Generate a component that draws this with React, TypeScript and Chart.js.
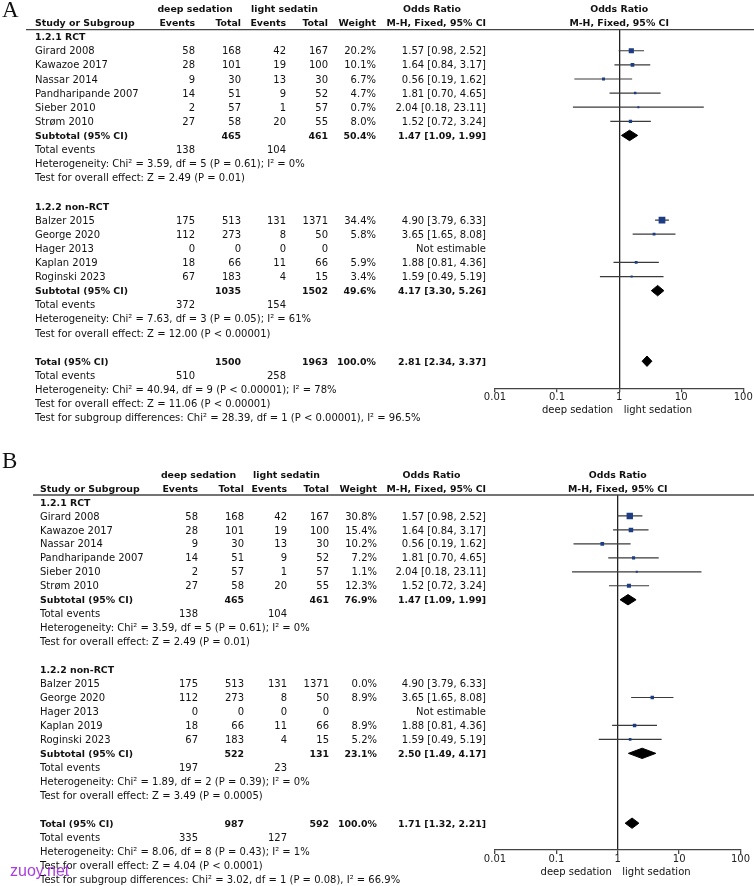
import React, { useEffect, useRef } from 'react';
import { Chart, registerables } from 'chart.js';

Chart.register(...registerables);

const FONT = '"DejaVu Sans", Verdana, sans-serif';

// ---------- data ----------
const groupLabels = ['1.2.1 RCT', '1.2.2 non-RCT'];

const rctStudies = ['Girard 2008', 'Kawazoe 2017', 'Nassar 2014', 'Pandharipande 2007', 'Sieber 2010', 'Strøm 2010'];
const rctDeepEvents = [58, 28, 9, 14, 2, 27];
const rctDeepTotal = [168, 101, 30, 51, 57, 58];
const rctLightEvents = [42, 19, 13, 9, 1, 20];
const rctLightTotal = [167, 100, 30, 52, 57, 55];
const rctOR = [1.57, 1.64, 0.56, 1.81, 2.04, 1.52];
const rctLow = [0.98, 0.84, 0.19, 0.7, 0.18, 0.72];
const rctHigh = [2.52, 3.17, 1.62, 4.65, 23.11, 3.24];
const rctWeightA = [20.2, 10.1, 6.7, 4.7, 0.7, 8.0];
const rctWeightB = [30.8, 15.4, 10.2, 7.2, 1.1, 12.3];

const nonStudies = ['Balzer 2015', 'George 2020', 'Hager 2013', 'Kaplan 2019', 'Roginski 2023'];
const nonDeepEvents = [175, 112, 0, 18, 67];
const nonDeepTotal = [513, 273, 0, 66, 183];
const nonLightEvents = [131, 8, 0, 11, 4];
const nonLightTotal = [1371, 50, 0, 66, 15];
const nonOR: (number | null)[] = [4.9, 3.65, null, 1.88, 1.59];
const nonLow: (number | null)[] = [3.79, 1.65, null, 0.81, 0.49];
const nonHigh: (number | null)[] = [6.33, 8.08, null, 4.36, 5.19];
const nonWeightA: (number | null)[] = [34.4, 5.8, null, 5.9, 3.4];
const nonWeightB: (number | null)[] = [0.0, 8.9, null, 8.9, 5.2];

// summaries: [RCT subtotal, non-RCT subtotal, overall total]
const sumLabels = ['Subtotal (95% CI)', 'Subtotal (95% CI)', 'Total (95% CI)'];

const sumOR_A = [1.47, 4.17, 2.81];
const sumLow_A = [1.09, 3.3, 2.34];
const sumHigh_A = [1.99, 5.26, 3.37];
const sumWeight_A = [50.4, 49.6, 100.0];
const sumDeepTotal_A = [465, 1035, 1500];
const sumLightTotal_A = [461, 1502, 1963];
const sumDeepEvents_A = [138, 372, 510];
const sumLightEvents_A = [104, 154, 258];
const het_A = [
  'Heterogeneity: Chi² = 3.59, df = 5 (P = 0.61); I² = 0%',
  'Heterogeneity: Chi² = 7.63, df = 3 (P = 0.05); I² = 61%',
  'Heterogeneity: Chi² = 40.94, df = 9 (P < 0.00001); I² = 78%',
];
const test_A = [
  'Test for overall effect: Z = 2.49 (P = 0.01)',
  'Test for overall effect: Z = 12.00 (P < 0.00001)',
  'Test for overall effect: Z = 11.06 (P < 0.00001)',
];
const subgroup_A = 'Test for subgroup differences: Chi² = 28.39, df = 1 (P < 0.00001), I² = 96.5%';

const sumOR_B = [1.47, 2.5, 1.71];
const sumLow_B = [1.09, 1.49, 1.32];
const sumHigh_B = [1.99, 4.17, 2.21];
const sumWeight_B = [76.9, 23.1, 100.0];
const sumDeepTotal_B = [465, 522, 987];
const sumLightTotal_B = [461, 131, 592];
const sumDeepEvents_B = [138, 197, 335];
const sumLightEvents_B = [104, 23, 127];
const het_B = [
  'Heterogeneity: Chi² = 3.59, df = 5 (P = 0.61); I² = 0%',
  'Heterogeneity: Chi² = 1.89, df = 2 (P = 0.39); I² = 0%',
  'Heterogeneity: Chi² = 8.06, df = 8 (P = 0.43); I² = 1%',
];
const test_B = [
  'Test for overall effect: Z = 2.49 (P = 0.01)',
  'Test for overall effect: Z = 3.49 (P = 0.0005)',
  'Test for overall effect: Z = 4.04 (P < 0.0001)',
];
const subgroup_B = 'Test for subgroup differences: Chi² = 3.02, df = 1 (P = 0.08), I² = 66.9%';

const tickValues = [0.01, 0.1, 1, 10, 100];
const tickLabels = ['0.01', '0.1', '1', '10', '100'];
const axisCaptions = ['deep sedation', 'light sedation'];

// ---------- layout (not data) ----------
const panels = [
  {
    letter: 'A', height: 440, top: 29.6, bottom: 388.3, right: 743.3, letterBaseline: 17,
    cols: { study: 35, ev1: 195, tot1: 241, ev2: 286, tot2: 328, wt: 376, or: 486, deepHead: 195, lightHead: 284.5, orHead: 432, lineLeft: 26 },
    rctWeight: rctWeightA, nonWeight: nonWeightA,
    sumOR: sumOR_A, sumLow: sumLow_A, sumHigh: sumHigh_A, sumWeight: sumWeight_A,
    sumDeepTotal: sumDeepTotal_A, sumLightTotal: sumLightTotal_A, sumDeepEvents: sumDeepEvents_A, sumLightEvents: sumLightEvents_A,
    het: het_A, test: test_A, subgroup: subgroup_A, watermark: false,
  },
  {
    letter: 'B', height: 446, top: 55, bottom: 410, right: 740.5, letterBaseline: 28.3,
    cols: { study: 40, ev1: 198, tot1: 244, ev2: 287, tot2: 329, wt: 377, or: 486, deepHead: 198.5, lightHead: 286.5, orHead: 431.5, lineLeft: 33 },
    rctWeight: rctWeightB, nonWeight: nonWeightB,
    sumOR: sumOR_B, sumLow: sumLow_B, sumHigh: sumHigh_B, sumWeight: sumWeight_B,
    sumDeepTotal: sumDeepTotal_B, sumLightTotal: sumLightTotal_B, sumDeepEvents: sumDeepEvents_B, sumLightEvents: sumLightEvents_B,
    het: het_B, test: test_B, subgroup: subgroup_B, watermark: true,
  },
];

const Y_MIN = -0.5;
const Y_MAX = 24.92;
const AXIS_H = 30;
const CANVAS_W = 754;

const fmtCI = (o: number, l: number, h: number) => `${o.toFixed(2)} [${l.toFixed(2)}, ${h.toFixed(2)}]`;

function buildStudies(P: any) {
  const list: any[] = [];
  rctStudies.forEach((name, i) => list.push({
    name, row: 1 + i, de: rctDeepEvents[i], dt: rctDeepTotal[i], le: rctLightEvents[i], lt: rctLightTotal[i],
    w: P.rctWeight[i], or: rctOR[i], lo: rctLow[i], hi: rctHigh[i],
  }));
  nonStudies.forEach((name, i) => list.push({
    name, row: 13 + i, de: nonDeepEvents[i], dt: nonDeepTotal[i], le: nonLightEvents[i], lt: nonLightTotal[i],
    w: P.nonWeight[i], or: nonOR[i], lo: nonLow[i], hi: nonHigh[i],
  }));
  return list;
}

const sumRows = [7, 18, 23];

function makePlugin(P: any, studies: any[]) {
  return {
    id: 'forestTable' + P.letter,
    afterDraw(chart: any) {
      const ctx = chart.ctx;
      const ys = chart.scales.y;
      const xs = chart.scales.x;
      const c = P.cols;
      const yOf = (r: number) => ys.getPixelForValue(r) + 3.6;
      const txt = (s: string, x: number, y: number, align: string, bold: boolean) => {
        ctx.font = bold ? `bold 9.4px ${FONT}` : `10px ${FONT}`;
        ctx.textAlign = align;
        ctx.textBaseline = 'alphabetic';
        ctx.fillStyle = '#111';
        ctx.fillText(s, x, y);
      };
      ctx.save();
      // panel letter
      ctx.font = '23px "Liberation Serif", "Times New Roman", serif';
      ctx.fillStyle = '#111';
      ctx.textAlign = 'left';
      ctx.textBaseline = 'alphabetic';
      ctx.fillText(P.letter, 2, P.letterBaseline);

      const px1 = xs.getPixelForValue(1);
      const h1 = yOf(-2);
      const h2 = yOf(-1);
      txt('deep sedation', c.deepHead, h1, 'center', true);
      txt('light sedatin', c.lightHead, h1, 'center', true);
      txt('Odds Ratio', c.orHead, h1, 'center', true);
      txt('Odds Ratio', px1, h1, 'center', true);
      txt('Study or Subgroup', c.study, h2, 'left', true);
      txt('Events', c.ev1, h2, 'right', true);
      txt('Total', c.tot1, h2, 'right', true);
      txt('Events', c.ev2, h2, 'right', true);
      txt('Total', c.tot2, h2, 'right', true);
      txt('Weight', c.wt, h2, 'right', true);
      txt('M-H, Fixed, 95% CI', c.or, h2, 'right', true);
      txt('M-H, Fixed, 95% CI', px1, h2, 'center', true);

      // header rule
      ctx.strokeStyle = '#444';
      ctx.lineWidth = 1.3;
      ctx.beginPath();
      ctx.moveTo(c.lineLeft, chart.chartArea.top);
      ctx.lineTo(CANVAS_W, chart.chartArea.top);
      ctx.stroke();

      // group headers
      txt(groupLabels[0], c.study, yOf(0), 'left', true);
      txt(groupLabels[1], c.study, yOf(12), 'left', true);

      // study rows
      studies.forEach((s) => {
        const y = yOf(s.row);
        txt(s.name, c.study, y, 'left', false);
        txt(String(s.de), c.ev1, y, 'right', false);
        txt(String(s.dt), c.tot1, y, 'right', false);
        txt(String(s.le), c.ev2, y, 'right', false);
        txt(String(s.lt), c.tot2, y, 'right', false);
        if (s.w !== null) txt(s.w.toFixed(1) + '%', c.wt, y, 'right', false);
        txt(s.or === null ? 'Not estimable' : fmtCI(s.or, s.lo, s.hi), c.or, y, 'right', false);
      });

      // summary blocks
      sumRows.forEach((r, k) => {
        const y = yOf(r);
        txt(sumLabels[k], c.study, y, 'left', true);
        txt(String(P.sumDeepTotal[k]), c.tot1, y, 'right', true);
        txt(String(P.sumLightTotal[k]), c.tot2, y, 'right', true);
        txt(P.sumWeight[k].toFixed(1) + '%', c.wt, y, 'right', true);
        txt(fmtCI(P.sumOR[k], P.sumLow[k], P.sumHigh[k]), c.or, y, 'right', true);
        const ye = yOf(r + 1);
        txt('Total events', c.study, ye, 'left', false);
        txt(String(P.sumDeepEvents[k]), c.ev1, ye, 'right', false);
        txt(String(P.sumLightEvents[k]), c.ev2, ye, 'right', false);
        txt(P.het[k], c.study, yOf(r + 2), 'left', false);
        txt(P.test[k], c.study, yOf(r + 3), 'left', false);
      });
      txt(P.subgroup, c.study, yOf(27), 'left', false);

      // axis captions
      const capY = chart.chartArea.bottom + 25;
      txt(axisCaptions[0], px1 - 6, capY, 'right', false);
      txt(axisCaptions[1], px1 + 4.5, capY, 'left', false);

      if (P.watermark) {
        ctx.font = '16px "Liberation Sans", Arial, sans-serif';
        ctx.fillStyle = 'rgba(160, 40, 220, 0.9)';
        ctx.textAlign = 'left';
        ctx.fillText('zuoy.net', 10, 435.5);
      }
      ctx.restore();
    },
  };
}

function ForestPanel({ P }: { P: any }) {
  const ref = useRef<HTMLCanvasElement | null>(null);
  useEffect(() => {
    if (!ref.current) return;
    const studies = buildStudies(P);
    const shown = studies.filter((s) => s.or !== null && s.w !== null && s.w > 0);
    const datasets: any[] = [];
    shown.forEach((s) => {
      datasets.push({
        type: 'line',
        data: [{ x: s.lo, y: s.row }, { x: s.hi, y: s.row }],
        borderColor: '#3a3a3a',
        borderWidth: 1.2,
        pointRadius: 0,
        fill: false,
        order: 3,
      });
    });
    datasets.push({
      type: 'scatter',
      data: shown.map((s) => ({ x: s.or, y: s.row })),
      pointStyle: 'rect',
      pointRadius: shown.map((s) => Math.max(2, 1.15 * Math.sqrt(s.w)) / Math.SQRT2),
      backgroundColor: '#1c3c84',
      borderWidth: 0,
      order: 1,
    });
    const half = 0.37;
    sumRows.forEach((r, k) => {
      datasets.push({
        type: 'line',
        data: [
          { x: P.sumLow[k], y: r },
          { x: P.sumOR[k], y: r - half },
          { x: P.sumHigh[k], y: r },
          { x: P.sumOR[k], y: r + half },
          { x: P.sumLow[k], y: r },
        ],
        borderColor: '#000',
        backgroundColor: '#000',
        borderWidth: 1,
        pointRadius: 0,
        tension: 0,
        fill: 'shape',
        order: 1,
      });
    });

    const chart = new Chart(ref.current, {
      type: 'scatter',
      data: { datasets },
      options: {
        animation: false,
        responsive: false,
        events: [],
        layout: {
          padding: { left: 495, right: CANVAS_W - P.right, top: P.top, bottom: P.height - P.bottom - AXIS_H },
        },
        plugins: { legend: { display: false }, tooltip: { enabled: false } },
        scales: {
          x: {
            type: 'logarithmic',
            min: tickValues[0],
            max: tickValues[tickValues.length - 1],
            position: 'bottom',
            afterBuildTicks: (s: any) => { s.ticks = tickValues.map((v) => ({ value: v })); },
            afterFit: (s: any) => { s.height = AXIS_H; },
            ticks: {
              callback: (_v: any, i: number) => tickLabels[i],
              font: { size: 10, family: FONT, lineHeight: 1 },
              color: '#222',
              padding: 0,
              autoSkip: false,
              maxRotation: 0,
            },
            grid: {
              color: (cx: any) => (cx.tick && cx.tick.value === 1 ? '#222' : 'rgba(0,0,0,0)'),
              lineWidth: 1.3,
              tickColor: '#444',
              tickLength: 4,
            },
            border: { display: true, color: '#444', width: 1.3 },
          },
          y: { type: 'linear', display: false, reverse: true, min: Y_MIN, max: Y_MAX },
        },
      } as any,
      plugins: [makePlugin(P, studies)],
    });
    return () => chart.destroy();
  }, [P]);
  return <canvas ref={ref} width={CANVAS_W} height={P.height} style={{ display: 'block' }} />;
}

export default function App() {
  useEffect(() => {
    document.body.style.margin = '0';
    document.body.style.background = '#fff';
  }, []);
  return (
    <div style={{ width: CANVAS_W, background: '#fff' }}>
      {panels.map((P) => <ForestPanel key={P.letter} P={P} />)}
    </div>
  );
}
